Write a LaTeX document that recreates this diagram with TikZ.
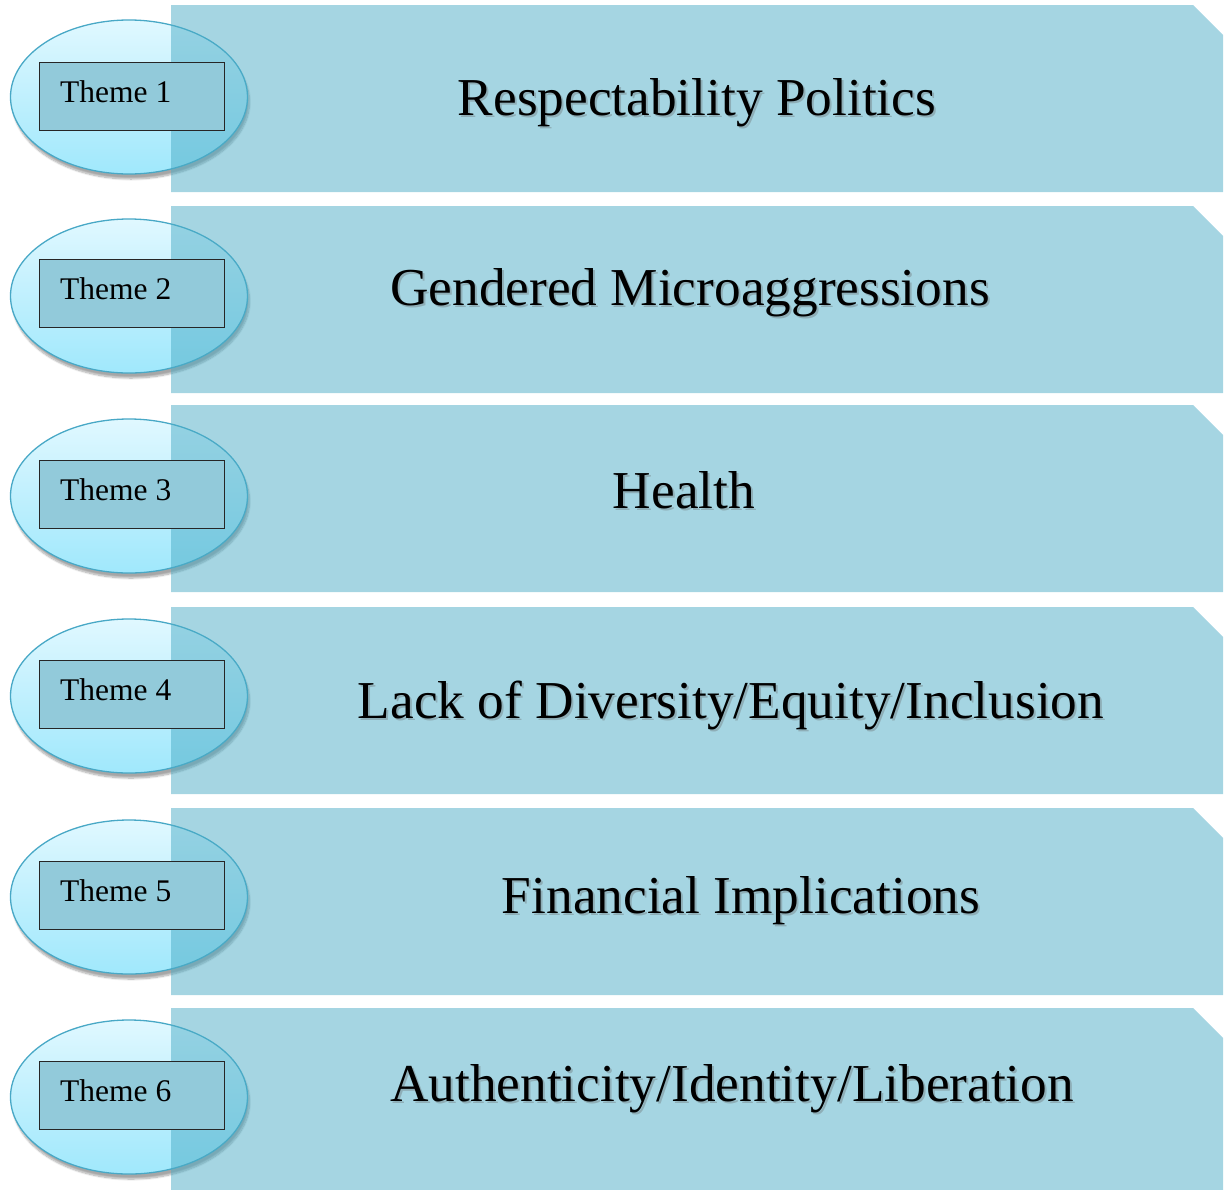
\documentclass[tikz,border=0pt]{standalone}
\usepackage{fontspec}
\setmainfont{Liberation Serif}
\usetikzlibrary{shapes.geometric,shadows.blur}
\definecolor{bandfill}{RGB}{75,172,198}
\definecolor{ovaltop}{RGB}{224,248,255}
\definecolor{ovalbottom}{RGB}{160,232,252}
\definecolor{ovalline}{RGB}{72,168,198}
\definecolor{tagfill}{RGB}{146,202,218}
\tikzset{
  band/.style={fill=bandfill, fill opacity=0.5, draw=none},
  oval/.style={ellipse, inner sep=0pt, minimum width=237pt, minimum height=154pt,
    top color=ovaltop, bottom color=ovalbottom, draw=ovalline, line width=1.3pt,
    blur shadow={shadow xshift=2pt, shadow yshift=-5pt, shadow blur steps=10, shadow opacity=35}},
  tag/.style={draw=black!85, line width=0.8pt, fill=tagfill, inner sep=0pt,
    minimum width=185pt, minimum height=68pt},
  taglabel/.style={anchor=base west, inner sep=0pt, font=\fontsize{31.5}{34}\selectfont},
  title/.style={anchor=base, inner sep=0pt, font=\fontsize{53.3}{58}\selectfont},
  titleshade/.style={title, text=black!60, text opacity=0.35}
}
\begin{document}
\begin{tikzpicture}[x=1pt,y=-1pt]
\useasboundingbox (0,0) rectangle (1225,1189);
\foreach \i/\bt/\ey/\ry/\tx/\ty/\ttl in {
  1/5/97/96/697/115/{Respectability Politics},
  2/206/296/293/690/305/{Gendered Microaggressions},
  3/405/496/494/684/508/{Health},
  4/607/696/694/731/718/{Lack of Diversity/Equity/Inclusion},
  5/808/897/895/741/913/{Financial Implications},
  6/1008/1097/1095/732/1101/{Authenticity/Identity/Liberation}}{
  % oval badge, partly covered by the band
  \node (oval\i) [oval] at (129,\ey) {};
  % band with its clipped upper right corner
  \coordinate (bnw\i) at (171,\bt);
  \coordinate (bcut\i) at (1193,\bt);
  \coordinate (bne\i) at (1223,\bt+30);
  \coordinate (bse\i) at (1223,\bt+187);
  \coordinate (bsw\i) at (171,\bt+187);
  \path[band] (bnw\i) -- (bcut\i) -- (bne\i) -- (bse\i) -- (bsw\i) -- cycle;
  % theme tag
  \node (tag\i) [tag] at (131.5,\ry) {};
  \node (tl\i) [taglabel] at (60,\ry+6) {Theme \i};
  % band title with a soft shadow
  \node (tsh\i) [titleshade] at (\tx+2,\ty+2) {\ttl};
  \node (tt\i) [title] at (\tx,\ty) {\ttl};
}
\end{tikzpicture}
\end{document}
